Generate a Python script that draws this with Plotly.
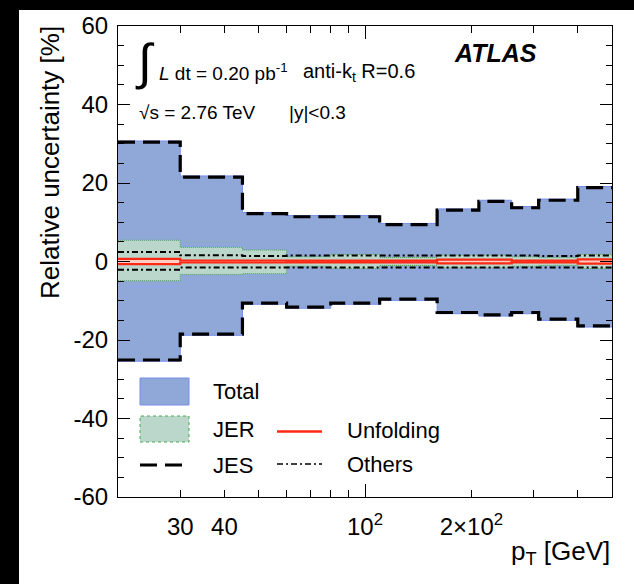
import numpy as np
import plotly.graph_objects as go

# pT bin edges [GeV]
edges = [20, 30, 45, 60, 80, 110, 160, 210, 260, 310, 400, 500]

# relative uncertainties [%] per bin
total_up = [30.7, 21.8, 12.5, 11.7, 11.7, 9.7, 13.4, 15.6, 14.0, 15.9, 19.1]
total_dn = [-25.4, -18.8, -10.9, -11.9, -10.9, -9.9, -13.3, -13.9, -13.3, -15.0, -16.7]
jes_up = [30.4, 21.5, 12.2, 11.4, 11.4, 9.4, 13.1, 15.3, 13.7, 15.6, 18.8]
jes_dn = [-25.1, -18.5, -10.6, -11.6, -10.6, -9.6, -13.0, -13.6, -13.0, -14.7, -16.4]
jer_up = [5.4, 3.6, 2.9, 1.2, 1.8, 1.0, 1.6, 1.6, 1.2, 1.0, 1.8]
jer_dn = [-4.9, -3.3, -3.1, -1.2, -1.8, -1.0, -1.6, -1.6, -1.2, -1.0, -1.8]
oth_up = [2.4, 1.6, 1.4, 1.5, 1.5, 1.5, 1.5, 1.5, 1.5, 1.4, 1.5]
oth_dn = [-2.1, -1.5, -1.5, -1.5, -1.5, -1.5, -1.5, -1.5, -1.5, -1.5, -1.5]
unf_up = [0.65, 0.25, 0.25, 0.2, 0.2, 0.2, 0.5, 0.5, 0.2, 0.2, 0.55]
unf_dn = [-0.65, -0.25, -0.25, -0.2, -0.2, -0.2, -0.5, -0.5, -0.2, -0.2, -0.55]

x_tickvals = [30, 40, 100, 200]
x_ticktext = ["30", "40", "10<sup>2</sup>", "2\u00d710<sup>2</sup>"]
x_minor = [50, 60, 70, 80, 90, 300, 400]
y_tickvals = [-60, -40, -20, 0, 20, 40, 60]
y_ticktext = ["-60", "-40", "-20", "0", "20", "40", "60"]

FONT = "Liberation Sans, Arial, Helvetica, sans-serif"
C_TOTAL = "rgb(143,168,216)"
C_TOTAL_EDGE = "rgb(120,140,235)"
C_JER = "rgb(187,214,203)"
C_JER_EDGE = "rgb(70,170,80)"
C_RED = "rgb(255,40,20)"
C_RED_FILL = "rgb(255,205,195)"

W, H = 634, 584
ML, MR, MT, MB = 118, 22, 26, 87
PW, PH = W - ML - MR, H - MT - MB


def px(x):
    return (x - ML) / PW


def py(y):
    return (H - MB - y) / PH


def step(v):
    return list(v) + [v[-1]]


fig = go.Figure()


def band(lo, hi, line, fill):
    fig.add_trace(go.Scatter(x=edges, y=step(lo), mode="lines", line=line,
                             line_shape="hv", showlegend=False, hoverinfo="skip"))
    fig.add_trace(go.Scatter(x=edges, y=step(hi), mode="lines", line=line,
                             line_shape="hv", fill="tonexty", fillcolor=fill,
                             showlegend=False, hoverinfo="skip"))


# total uncertainty band
band(total_dn, total_up, dict(color=C_TOTAL_EDGE, width=1), C_TOTAL)
# jet energy resolution band
band(jer_dn, jer_up, dict(color=C_JER_EDGE, width=1, dash="1px,1px"), C_JER)

# other components (dash-dot)
for v in (oth_up, oth_dn):
    fig.add_trace(go.Scatter(x=edges, y=step(v), mode="lines", line_shape="hv",
                             line=dict(color="black", width=2, dash="6px,3px,2px,3px"),
                             showlegend=False, hoverinfo="skip"))

# unfolding band
band(unf_dn, unf_up, dict(color=C_RED, width=2.2), C_RED_FILL)

# jet energy scale (dashed)
for v in (jes_up, jes_dn):
    fig.add_trace(go.Scatter(x=edges, y=step(v), mode="lines", line_shape="hv",
                             line=dict(color="black", width=3.2, dash="17px,8px"),
                             showlegend=False, hoverinfo="skip"))

# helper trace for the long decade tick
fig.add_trace(go.Scatter(x=[], y=[], xaxis="x2", showlegend=False))

shapes = [
    dict(type="rect", xref="paper", yref="paper", x0=px(19), x1=px(700),
         y0=py(10), y1=py(700), fillcolor="white", line=dict(width=0), layer="below"),
    # legend glyphs
    dict(type="rect", xref="paper", yref="paper", x0=px(140), x1=px(189),
         y0=py(405), y1=py(378), fillcolor=C_TOTAL, line=dict(color=C_TOTAL_EDGE, width=1)),
    dict(type="rect", xref="paper", yref="paper", x0=px(140), x1=px(189),
         y0=py(442), y1=py(416), fillcolor=C_JER,
         line=dict(color=C_JER_EDGE, width=1, dash="dot")),
    dict(type="line", xref="paper", yref="paper", x0=px(140), x1=px(189),
         y0=py(465), y1=py(465), line=dict(color="black", width=3.2, dash="17px,8px")),
    dict(type="line", xref="paper", yref="paper", x0=px(277), x1=px(322),
         y0=py(431.5), y1=py(431.5), line=dict(color=C_RED, width=2.5)),
    dict(type="line", xref="paper", yref="paper", x0=px(277), x1=px(322),
         y0=py(464), y1=py(464), line=dict(color="black", width=1.5, dash="6px,3px,2px,3px")),
]


def txt(text, x, y, size, xanchor="left", **kw):
    return dict(text=text, x=px(x), y=py(y), xref="paper", yref="paper",
                xanchor=xanchor, yanchor="middle", showarrow=False,
                font=dict(family=FONT, size=size, color="black"), **kw)


annotations = [
    txt("\u222b", 145, 62, 50, xanchor="center"),
    txt("<i>L</i> dt = 0.20 pb<sup>-1</sup>", 157, 72, 19),
    txt("anti-k<sub>t</sub> R=0.6", 301, 72, 20),
    txt("\u221as = 2.76 TeV", 137, 113, 19),
    txt("|y|<0.3", 287, 113, 19),
    txt("<b><i>ATLAS</i></b>", 452, 53, 25),
    txt("Total", 211, 391, 22),
    txt("JER", 211, 429, 22),
    txt("JES", 211, 465, 22),
    txt("Unfolding", 345, 430, 22),
    txt("Others", 345, 464, 22),
    txt("Relative uncertainty [%]", 50, 163, 26, xanchor="center", textangle=-90),
    txt("p<sub>T</sub> [GeV]", 612, 552, 26, xanchor="right"),
]

xrange_log = [np.log10(20), np.log10(500)]

fig.update_layout(
    width=W, height=H,
    margin=dict(l=ML, r=MR, t=MT, b=MB),
    paper_bgcolor="black", plot_bgcolor="white",
    font=dict(family=FONT, size=24, color="black"),
    shapes=shapes, annotations=annotations,
    xaxis=dict(type="log", range=xrange_log, tickmode="array",
               tickvals=x_tickvals, ticktext=x_ticktext,
               ticks="inside", ticklen=7, tickwidth=1, tickcolor="black",
               showline=True, linecolor="black", linewidth=1, mirror="ticks",
               showgrid=False, zeroline=False, ticklabelstandoff=8,
               minor=dict(tickmode="array", tickvals=x_minor, ticks="inside",
                          ticklen=7, tickwidth=1, tickcolor="black", showgrid=False),
               tickfont=dict(size=24)),
    xaxis2=dict(type="log", range=xrange_log, overlaying="x", anchor="y", side="bottom",
                tickmode="array", tickvals=[100], showticklabels=False,
                ticks="inside", ticklen=13, tickwidth=1, tickcolor="black",
                showline=True, linecolor="black", linewidth=1, mirror="ticks",
                showgrid=False, zeroline=False),
    yaxis=dict(range=[-60, 60], tickmode="array", tickvals=y_tickvals,
               ticktext=y_ticktext,
               ticks="inside", ticklen=12, tickwidth=1, tickcolor="black",
               showline=True, linecolor="black", linewidth=1, mirror="ticks",
               showgrid=False, zeroline=False, ticklabelstandoff=4,
               minor=dict(dtick=5, ticks="inside", ticklen=6, tickwidth=1,
                          tickcolor="black", showgrid=False),
               tickfont=dict(size=24)),
    showlegend=False,
)

fig.write_html("out.html")
